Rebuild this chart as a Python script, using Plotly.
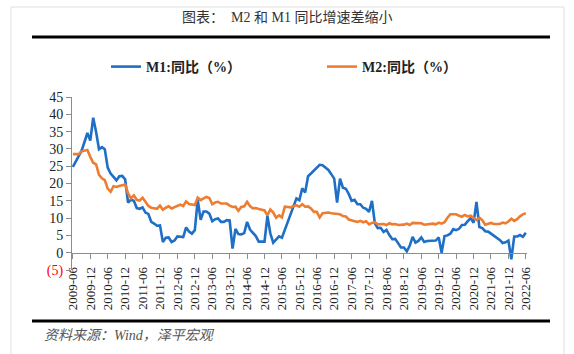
import plotly.graph_objects as go
import pandas as pd

# ---------------- data ----------------
months = [p.strftime("%Y-%m") for p in pd.period_range("2009-06", "2022-06", freq="M")]

m1 = [
    24.8, 26.4, 27.7, 29.5, 32.0, 34.6, 32.4,                      # 2009 Jun-Dec
    39.0, 34.9, 29.9, 30.5, 29.9, 24.6, 22.9, 21.9, 20.9, 22.1, 22.2, 21.2,  # 2010
    14.5, 15.3, 15.0, 12.9, 12.7, 13.1, 11.6, 11.2, 8.9, 8.4, 7.8, 7.9,      # 2011
    3.1, 4.3, 4.4, 3.1, 3.5, 4.7, 4.6, 4.5, 7.3, 6.1, 5.5, 6.5,              # 2012
    15.3, 9.5, 11.9, 11.9, 11.3, 9.1, 9.7, 9.9, 8.9, 8.9, 9.4, 9.3,          # 2013
    1.2, 6.9, 5.4, 5.3, 5.7, 8.9, 6.7, 5.7, 4.8, 3.2, 3.2, 3.2,              # 2014
    10.6, 5.6, 2.9, 3.7, 4.7, 4.3, 6.6, 9.3, 11.4, 14.0, 15.7, 15.2,         # 2015
    18.6, 17.4, 22.1, 22.9, 23.7, 24.6, 25.4, 25.3, 24.7, 23.9, 22.7, 21.4,  # 2016
    14.5, 21.4, 18.8, 18.5, 17.0, 15.0, 15.3, 14.0, 14.0, 13.0, 12.7, 11.8,  # 2017
    15.0, 8.5, 7.1, 7.2, 6.0, 6.6, 5.1, 3.9, 4.0, 2.7, 1.5, 1.5,             # 2018
    0.4, 2.0, 4.6, 2.9, 3.4, 4.4, 3.1, 3.4, 3.4, 3.3, 3.5, 4.4,              # 2019
    0.0, 4.8, 5.0, 5.5, 6.8, 6.5, 6.9, 8.0, 8.1, 9.1, 10.0, 8.6,             # 2020
    14.7, 7.4, 7.1, 6.2, 6.1, 5.5, 4.9, 4.2, 3.7, 2.8, 3.0, 3.5,             # 2021
    -1.9, 4.7, 4.7, 5.1, 4.6, 5.8,                                           # 2022 Jan-Jun
]

m2 = [
    28.5, 28.4, 28.5, 29.3, 29.4, 29.7, 27.7,                                # 2009 Jun-Dec
    26.0, 25.5, 22.5, 21.5, 21.0, 18.5, 17.6, 19.2, 19.0, 19.3, 19.5, 19.7,  # 2010
    17.2, 15.7, 16.6, 15.3, 15.1, 15.9, 14.7, 13.5, 13.0, 12.9, 12.7, 13.6,  # 2011
    12.4, 13.0, 13.4, 12.8, 13.2, 13.6, 13.9, 13.5, 14.8, 14.1, 13.9, 13.8,  # 2012
    15.9, 15.2, 15.7, 16.1, 15.8, 14.0, 14.5, 14.7, 14.2, 14.3, 14.2, 13.6,  # 2013
    13.2, 13.3, 12.1, 13.2, 13.4, 14.7, 13.5, 12.8, 12.9, 12.6, 12.3, 12.2,  # 2014
    10.8, 12.5, 11.6, 10.1, 10.8, 10.2, 13.3, 13.3, 13.1, 13.5, 13.7, 13.3,  # 2015
    14.0, 13.3, 13.4, 12.8, 11.8, 11.8, 10.2, 11.4, 11.5, 11.6, 11.4, 11.3,  # 2016
    11.3, 11.1, 10.6, 10.5, 9.6, 9.4, 9.2, 8.9, 9.2, 8.8, 9.1, 8.2,          # 2017
    8.6, 8.8, 8.2, 8.3, 8.3, 8.0, 8.5, 8.2, 8.3, 8.0, 8.0, 8.1,              # 2018
    8.4, 8.0, 8.6, 8.5, 8.5, 8.5, 8.1, 8.2, 8.4, 8.4, 8.2, 8.7,              # 2019
    8.4, 8.8, 10.1, 11.1, 11.1, 11.1, 10.7, 10.4, 10.9, 10.5, 10.7, 10.1,    # 2020
    9.4, 10.1, 9.4, 8.1, 8.3, 8.6, 8.3, 8.2, 8.3, 8.7, 8.5, 9.0,             # 2021
    9.8, 9.2, 9.7, 10.5, 11.1, 11.4,                                         # 2022 Jan-Jun
]

x_tick_labels = months[::6]
y_tick_vals = [-5, 0, 5, 10, 15, 20, 25, 30, 35, 40, 45]
y_tick_text = ['<span style="color:#FF0000">(5)</span>', "0", "5", "10", "15", "20",
               "25", "30", "35", "40", "45"]

series_names = ["<b>M1:同比（%）</b>", "<b>M2:同比（%）</b>"]
title_text = "图表：  M2 和 M1 同比增速差缩小"
source_text = "<i>资料来源：Wind，泽平宏观</i>"

# ---------------- figure ----------------
BLUE = "#1F6FC6"
ORANGE = "#ED7D31"
SERIF = "Liberation Serif, Noto Sans CJK SC, serif"

fig = go.Figure()
fig.add_trace(go.Scatter(x=months, y=m1, mode="lines", name=series_names[0],
                         line=dict(color=BLUE, width=2.6), legend="legend"))
fig.add_trace(go.Scatter(x=months, y=m2, mode="lines", name=series_names[1],
                         line=dict(color=ORANGE, width=2.6), legend="legend2"))

L, R, T, B = 72, 47, 97, 84
W, H = 574, 354
pw, ph = W - L - R, H - T - B


def px_x(px):
    return (px - L) / pw


def px_y(py):
    return (H - B - py) / ph


y_min, y_max = -5, 45
zero_pos = (0 - y_min) / (y_max - y_min)

legend_common = dict(orientation="h", yanchor="middle", xanchor="left", itemwidth=30,
                     font=dict(family=SERIF, size=14, color="#222222"),
                     bgcolor="rgba(0,0,0,0)")

fig.update_layout(
    width=W, height=H, autosize=False,
    margin=dict(l=L, r=R, t=T, b=B),
    paper_bgcolor="white", plot_bgcolor="white",
    font=dict(family=SERIF, color="#222222"),
    showlegend=True,
    legend=dict(x=px_x(106), y=px_y(67), **legend_common),
    legend2=dict(x=px_x(322), y=px_y(67), **legend_common),
    xaxis=dict(type="category", range=[-0.3, len(months) - 0.6],
               tickmode="array", tickvals=x_tick_labels, ticktext=x_tick_labels,
               tickangle=-90, ticks="outside", ticklen=5, tickcolor="#8C8C8C",
               ticklabelstandoff=3,
               showline=True, linecolor="#8C8C8C", linewidth=1,
               anchor="free", position=zero_pos,
               showgrid=False, zeroline=False,
               tickfont=dict(family=SERIF, size=13, color="#222222")),
    yaxis=dict(range=[y_min, y_max], tickmode="array", tickvals=y_tick_vals,
               ticktext=y_tick_text, ticks="outside", ticklen=5, tickcolor="#8C8C8C",
               showline=True, linecolor="#8C8C8C", linewidth=1,
               showgrid=False, zeroline=False,
               tickfont=dict(family=SERIF, size=14, color="#222222")),
)

# title
fig.add_annotation(text=title_text, xref="paper", yref="paper",
                   x=px_x(287), y=px_y(17), xanchor="center", yanchor="middle",
                   showarrow=False, font=dict(family=SERIF, size=14, color="#333333"))
# source
fig.add_annotation(text=source_text, xref="paper", yref="paper",
                   x=px_x(42), y=px_y(335), xanchor="left", yanchor="middle",
                   showarrow=False, font=dict(family=SERIF, size=14, color="#555555"))

# horizontal rules
fig.add_shape(type="line", xref="paper", yref="paper",
              x0=px_x(32), x1=px_x(550), y0=px_y(37), y1=px_y(37),
              line=dict(color="#000000", width=3))
fig.add_shape(type="line", xref="paper", yref="paper",
              x0=px_x(32), x1=px_x(550), y0=px_y(321), y1=px_y(321),
              line=dict(color="#000000", width=3))

# page border (light gray)
fig.add_shape(type="line", xref="paper", yref="paper",
              x0=px_x(11), x1=px_x(11), y0=px_y(7), y1=px_y(354),
              line=dict(color="#E0E0E0", width=1))
fig.add_shape(type="line", xref="paper", yref="paper",
              x0=px_x(564), x1=px_x(564), y0=px_y(7), y1=px_y(354),
              line=dict(color="#E0E0E0", width=1))
fig.add_shape(type="line", xref="paper", yref="paper",
              x0=px_x(11), x1=px_x(564), y0=px_y(7), y1=px_y(7),
              line=dict(color="#E0E0E0", width=1))

fig.write_html("out.html")
